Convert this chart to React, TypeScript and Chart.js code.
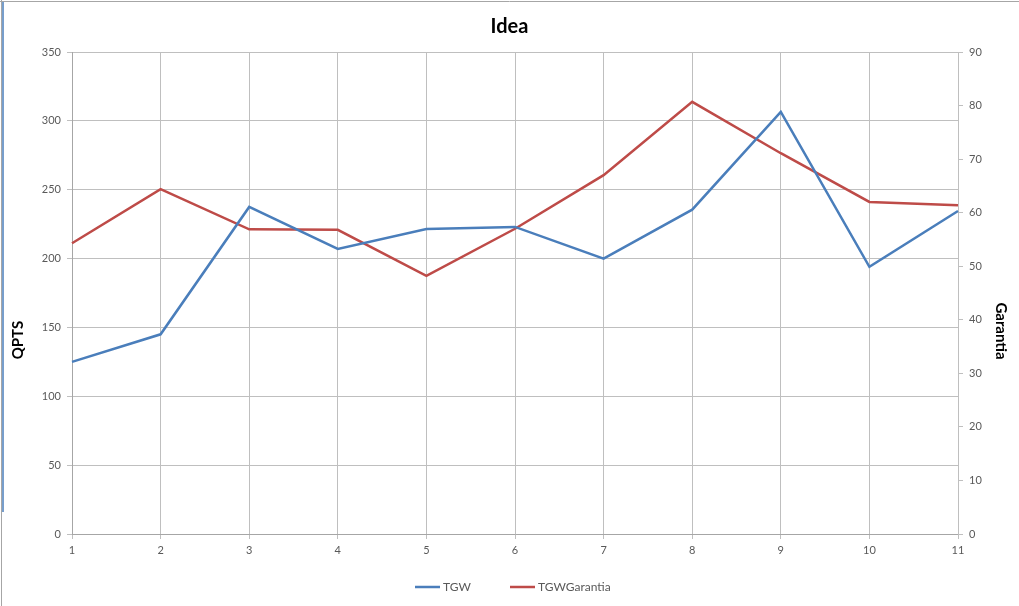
import React, { useEffect, useRef } from "react";
import { Chart, registerables } from "chart.js";

Chart.register(...registerables);

const categories = ["1", "2", "3", "4", "5", "6", "7", "8", "9", "10", "11"];
const tgw = [125, 145, 237.5, 207, 221.5, 223, 200, 235.5, 306.5, 194, 234.5];
const tgwGarantia = [54.3, 64.4, 56.9, 56.8, 48.2, 57, 67, 80.7, 71.1, 62, 61.4];
const leftTitle = "QPTS";
const rightTitle = "Garantia";

const FONT = "Lato, 'Open Sans', sans-serif";
const legendX = [415, 510];

const framePlugin = {
  id: "frame",
  afterDraw(chart: any) {
    const ctx = chart.ctx;
    ctx.save();
    ctx.strokeStyle = "#a6a6a6";
    ctx.lineWidth = 1;
    ctx.beginPath();
    ctx.moveTo(0, 1.5);
    ctx.lineTo(chart.width, 1.5);
    ctx.moveTo(1.5, 0);
    ctx.lineTo(1.5, chart.height);
    ctx.stroke();
    ctx.strokeStyle = "#4a7ebb";
    ctx.lineWidth = 1.5;
    ctx.beginPath();
    ctx.moveTo(3, 2);
    ctx.lineTo(3, 512);
    ctx.stroke();
    // axis titles
    ctx.fillStyle = "#000";
    ctx.font = `bold 15px ${FONT}`;
    ctx.textAlign = "center";
    ctx.textBaseline = "middle";
    ctx.save();
    ctx.translate(18, 340);
    ctx.rotate(-Math.PI / 2);
    ctx.fillText(leftTitle, 0, 0);
    ctx.restore();
    ctx.save();
    ctx.translate(1001, 331);
    ctx.rotate(Math.PI / 2);
    ctx.fillText(rightTitle, 0, 0);
    ctx.restore();
    // legend
    ctx.font = `12px ${FONT}`;
    ctx.textAlign = "left";
    chart.data.datasets.forEach((ds: any, i: number) => {
      const x = legendX[i];
      const y = 587;
      ctx.strokeStyle = ds.borderColor;
      ctx.lineWidth = 2.5;
      ctx.beginPath();
      ctx.moveTo(x, y);
      ctx.lineTo(x + 25, y);
      ctx.stroke();
      ctx.fillStyle = "#595959";
      ctx.fillText(ds.label, x + 28, y + 0.5);
    });
    ctx.restore();
  },
};

export default function App() {
  const ref = useRef<HTMLCanvasElement>(null);
  useEffect(() => {
    if (!ref.current) return;
    const chart = new Chart(ref.current, {
      type: "line",
      data: {
        labels: categories,
        datasets: [
          {
            label: "TGW",
            data: tgw,
            borderColor: "#4a7ebb",
            backgroundColor: "#4a7ebb",
            borderWidth: 2.5,
            pointRadius: 0,
            tension: 0,
            yAxisID: "y",
          },
          {
            label: "TGWGarantia",
            data: tgwGarantia,
            borderColor: "#be4b48",
            backgroundColor: "#be4b48",
            borderWidth: 2.5,
            pointRadius: 0,
            tension: 0,
            yAxisID: "y1",
          },
        ],
      },
      options: {
        responsive: false,
        animation: false,
        layout: { padding: { bottom: 34.4 } },
        plugins: {
          title: {
            display: true,
            text: "Idea",
            color: "#000",
            font: { family: FONT, size: 20, weight: "bold" },
            padding: { top: 15, bottom: 13 },
          },
          legend: { display: false },
          tooltip: { enabled: false },
        },
        scales: {
          x: {
            type: "category",
            offset: false,
            grid: { color: "#bfbfbf", tickLength: 5, drawTicks: true },
            border: { color: "#a6a6a6" },
            ticks: { color: "#595959", font: { family: FONT, size: 11 }, padding: 5, maxRotation: 0 },
            afterFit(scale: any) {
              scale.height = 37.6;
            },
          },
          y: {
            position: "left",
            min: 0,
            max: 350,
            ticks: { stepSize: 50, color: "#595959", font: { family: FONT, size: 11 }, padding: 6 },
            grid: { color: "#bfbfbf", tickLength: 5 },
            border: { color: "#a6a6a6" },
            afterFit(scale: any) {
              scale.width = 72;
            },
          },
          y1: {
            position: "right",
            min: 0,
            max: 90,
            ticks: { stepSize: 10, color: "#595959", font: { family: FONT, size: 11 }, padding: 6 },
            grid: { drawOnChartArea: false, color: "#bfbfbf", tickLength: 5 },
            border: { color: "#bfbfbf" },
            afterFit(scale: any) {
              scale.width = 61;
            },
          },
        },
      },
      plugins: [framePlugin],
    });
    return () => chart.destroy();
  }, []);
  return (
    <div style={{ position: "absolute", left: 0, top: 0, width: 1019, height: 606, background: "#fff" }}>
      <canvas ref={ref} width={1019} height={606} style={{ width: 1019, height: 606 }} />
    </div>
  );
}
